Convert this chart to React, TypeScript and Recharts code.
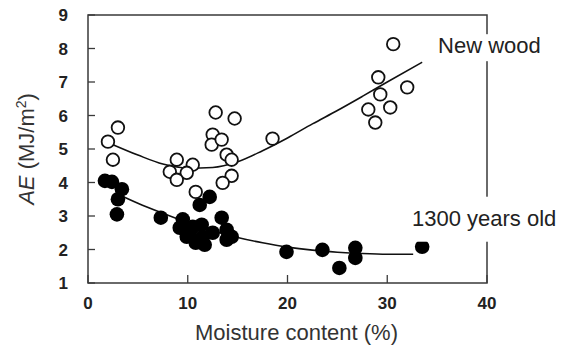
import React from 'react';
import { ComposedChart, Scatter, Line, XAxis, YAxis, ReferenceArea, ReferenceDot } from 'recharts';

// New wood measurements (moisture %, AE MJ/m2)
const newWoodMoisture = [2.0, 3.0, 2.5, 8.9, 10.5, 8.2, 9.9, 8.9, 12.8, 14.7, 12.5, 12.4, 13.4, 13.9, 14.4, 14.4, 13.5, 10.8, 18.5, 30.6, 29.1, 32.0, 29.3, 30.3, 28.1, 28.8];
const newWoodAE = [5.22, 5.64, 4.68, 4.68, 4.53, 4.32, 4.29, 4.08, 6.09, 5.91, 5.43, 5.13, 5.28, 4.83, 4.68, 4.2, 3.99, 3.72, 5.31, 8.13, 7.14, 6.84, 6.63, 6.24, 6.18, 5.79];

// 1300 years old measurements
const oldMoisture = [1.7, 2.4, 3.4, 3.0, 2.9, 7.3, 11.2, 12.2, 9.5, 9.2, 9.9, 10.5, 11.4, 11.5, 11.7, 12.5, 13.4, 13.9, 14.4, 13.9, 10.2, 10.8, 19.9, 23.5, 26.8, 26.8, 25.2, 33.5];
const oldAE = [4.05, 4.02, 3.8, 3.5, 3.05, 2.95, 3.33, 3.57, 2.9, 2.65, 2.38, 2.68, 2.74, 2.38, 2.14, 2.5, 2.95, 2.59, 2.38, 2.29, 2.5, 2.2, 1.93, 1.99, 2.05, 1.75, 1.45, 2.08];

// Fitted curves
const newFitX = [2.5, 5, 7.5, 10, 12.5, 15, 17.5, 20, 22.5, 25, 27.5, 30, 33.5];
const newFitY = [5.13, 4.82, 4.55, 4.43, 4.45, 4.62, 4.95, 5.33, 5.75, 6.15, 6.57, 7.0, 7.59];
const oldFitX = [3, 5, 7.5, 10, 12.5, 15, 17.5, 20, 22.5, 25, 27.5, 30, 32.6];
const oldFitY = [3.65, 3.38, 3.08, 2.8, 2.56, 2.36, 2.2, 2.07, 1.98, 1.92, 1.88, 1.86, 1.86];

const xTicks = [0, 10, 20, 30, 40];
const yTicks = [1, 2, 3, 4, 5, 6, 7, 8, 9];

const zip = (xs: number[], ys: number[]) => xs.map((x, i) => ({ x, y: ys[i] }));
const newWood = zip(newWoodMoisture, newWoodAE);
const oldWood = zip(oldMoisture, oldAE);
const newFit = zip(newFitX, newFitY);
const oldFit = zip(oldFitX, oldFitY);

const FONT = '"Liberation Sans", Arial, sans-serif';
const AXIS_COLOR = '#3a3a3a';
const Y_TICK_SIZE = 20;
const X_TICK_SIZE = 14;

const YTick = (props: any) => {
  const { x, y, payload } = props;
  return (
    <g>
      <text x={x} y={y} dy="0.36em" textAnchor="end" fontSize={17} fontWeight="bold" fill="#222" fontFamily={FONT}>
        {payload.value}
      </text>
      <line x1={x + Y_TICK_SIZE} x2={x + Y_TICK_SIZE + 7} y1={y} y2={y} stroke={AXIS_COLOR} strokeWidth={1.3} />
    </g>
  );
};

const XTick = (props: any) => {
  const { x, y, payload } = props;
  return (
    <g>
      <text x={x} y={y} dy="0.72em" textAnchor="middle" fontSize={17} fontWeight="bold" fill="#222" fontFamily={FONT}>
        {payload.value}
      </text>
      <line x1={x} x2={x} y1={y - X_TICK_SIZE} y2={y - X_TICK_SIZE - 8} stroke={AXIS_COLOR} strokeWidth={1.3} />
    </g>
  );
};

const OpenDot = (props: any) => (
  <circle cx={props.cx} cy={props.cy} r={6.3} fill="#fff" stroke="#111" strokeWidth={1.8} />
);
const FilledDot = (props: any) => (
  <circle cx={props.cx} cy={props.cy} r={7.3} fill="#000" />
);

const makeTag = (text: string, padTop: number, padBottom: number) => (props: any) => {
  const { viewBox } = props;
  const x = viewBox.x + (viewBox.width || 0) / 2;
  const y = viewBox.y + (viewBox.height || 0) / 2;
  return (
    <g>
      <rect x={x - 4} y={y - padTop} width={text.length * 12} height={padTop + padBottom} fill="#fff" />
      <text x={x} y={y} fontSize={22} fill="#222" fontFamily={FONT}>{text}</text>
    </g>
  );
};

const XTitle = (props: any) => {
  const vb = props.viewBox;
  return (
    <text x={vb.x + vb.width / 2 + 9} y={vb.y + 57} textAnchor="middle" fontSize={22} fill="#333" fontFamily={FONT}>
      Moisture content (%)
    </text>
  );
};

const YTitle = () => (
  <text x={34} y={149} textAnchor="middle" fontSize={22} fill="#333" fontFamily={FONT} transform="rotate(-90 34 149)">
    <tspan fontStyle="italic">AE</tspan>
    <tspan> (MJ/m</tspan>
    <tspan dy={-8} fontSize={14}>2</tspan>
    <tspan dy={8}>)</tspan>
  </text>
);

export default function App() {
  return (
    <div style={{ position: 'absolute', left: 0, top: 0, background: '#fff' }}>
      <ComposedChart width={566} height={345} margin={{ top: 15, right: 79, bottom: 0, left: 0 }}>
        <XAxis
          type="number"
          dataKey="x"
          domain={[0, 40]}
          ticks={xTicks}
          height={62}
          axisLine={false}
          tickLine={false}
          tickSize={X_TICK_SIZE}
          tickMargin={0}
          tick={<XTick />}
          label={<XTitle />}
          allowDataOverflow
        />
        <YAxis
          type="number"
          dataKey="y"
          domain={[1, 9]}
          ticks={yTicks}
          width={88}
          axisLine={false}
          tickLine={false}
          tickSize={Y_TICK_SIZE}
          tickMargin={0}
          tick={<YTick />}
          label={<YTitle />}
          allowDataOverflow
        />
        <ReferenceArea x1={0} x2={40} y1={1} y2={9} fill="none" stroke={AXIS_COLOR} strokeWidth={1.5} ifOverflow="visible" />
        <Line data={newFit} dataKey="y" type="monotone" stroke="#111" strokeWidth={1.6} dot={false} isAnimationActive={false} />
        <Line data={oldFit} dataKey="y" type="monotone" stroke="#111" strokeWidth={1.6} dot={false} isAnimationActive={false} />
        <Scatter data={newWood} dataKey="y" shape={<OpenDot />} isAnimationActive={false} />
        <Scatter data={oldWood} dataKey="y" shape={<FilledDot />} isAnimationActive={false} />
        <ReferenceDot x={35.1} y={7.86} r={0} fill="none" stroke="none" ifOverflow="visible" label={makeTag('New wood', 19, 8)} />
        <ReferenceDot x={32.48} y={2.71} r={0} fill="none" stroke="none" ifOverflow="visible" label={makeTag('1300 years old', 29, 16)} />
      </ComposedChart>
    </div>
  );
}
